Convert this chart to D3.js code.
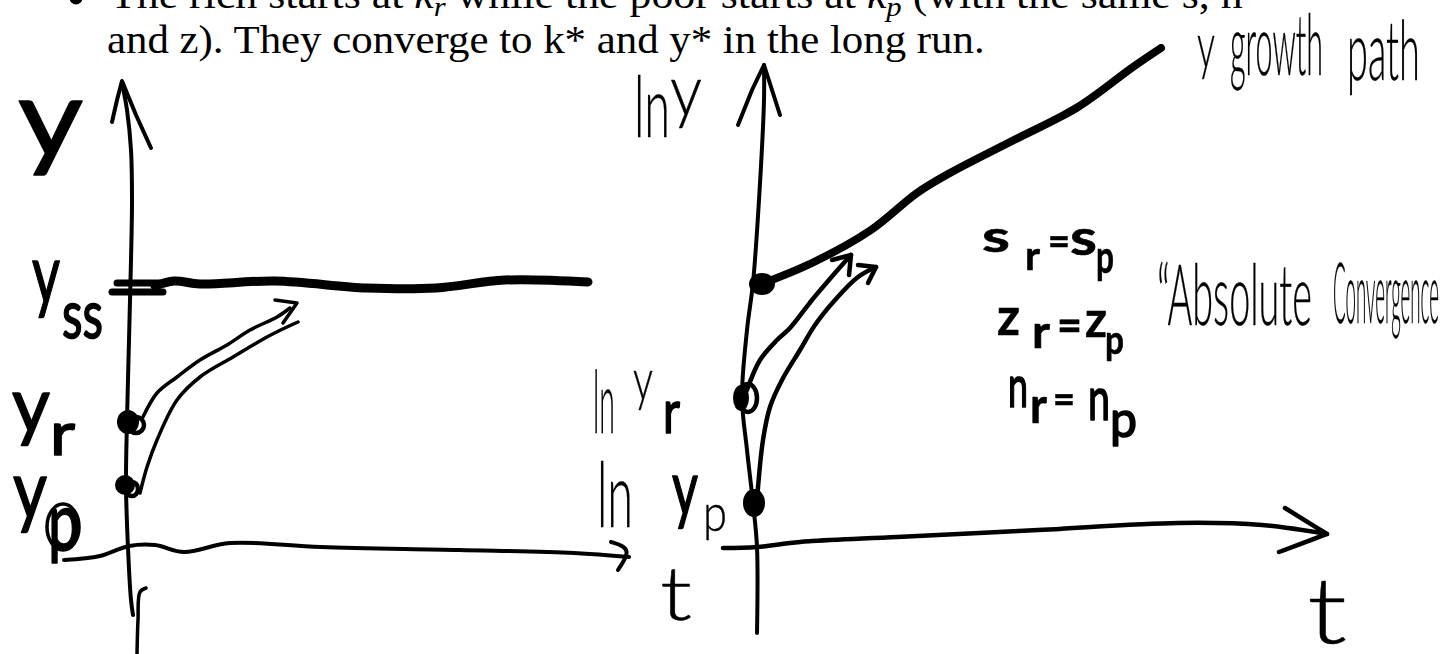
<!DOCTYPE html>
<html>
<head>
<meta charset="utf-8">
<script src="https://cdn.jsdelivr.net/npm/d3@7"></script>
<style>
  html, body { margin: 0; padding: 0; background: #fff; overflow: hidden; }
  svg { display: block; }
</style>
</head>
<body>
<svg id="chart" width="1440" height="654"></svg>
<script>
// ---------- Left panel: y against t (levels) ----------
// points are [t, y] in panel units
const leftAxisY     = [[-0.6,46.9],[-0.1,44.2],[0.3,40.2],[0.4,35.2],[0.3,29.2],[0.1,21.2],[-0.1,13.2],[-0.2,6.7],[0,0.4],[0.3,-4.8],[0.5,-6.3]];
const leftAxisYHead = [[-1.6,43.0],[-1.1,45.2],[-0.6,47.1],[0.8,43.7],[2.3,40.4]];
const leftAxisYTail = [[1.8,-3.6],[1.2,-4.0],[1.0,-6.8],[0.9,-10.2]];
const leftAxisT     = [[-6.4,-0.8],[-2.8,-0.4],[0.1,0.6],[2.7,0.7],[5.6,0],[10.2,0.9],[19.3,0.5],[33.1,0.2],[44.6,-0.1],[50.1,-0.5]];
const leftAxisTHead = [[48.3,1.0],[49.6,0.6],[50.1,-0.1],[49.0,-1.8]];
const steadyTicks   = [[[-1.1,26.9],[3.2,26.9]], [[-1.6,26.0],[3.5,26.0]]];
const steadyState   = [[2.7,26.6],[4.6,27.1],[7.2,26.8],[14.7,27.1],[23.9,26.4],[30.8,26.4],[37.7,27.2],[46.0,27.0]];
const convUpper     = [[1.5,13.5],[2.9,15.9],[4.9,17.5],[7.2,19.2],[9.9,20.7],[12.2,22.2],[14.9,23.5],[16.2,24.4]];
const convLower     = [[1.2,5.9],[1.9,8.5],[2.9,11.2],[4.9,15.2],[7.2,17.5],[10.5,19.5],[13.9,21.5],[15.9,22.5],[17.0,23.0]];
const convHead      = [[14.7,25.2],[16.9,24.9],[15.5,22.9]];
const leftDots      = [{t:0, y:13.0, rx:11, ry:12}, {t:-0.3, y:6.7, rx:10, ry:10}];   // y_r, y_p
const leftRings     = [{t:0.8, y:12.7, rx:8, ry:8}, {t:0.4, y:6.3, rx:6, ry:7}];

// ---------- Right panel: ln y against t (growth) ----------
const rightAxisY     = [[1.2,48.1],[1.2,44.6],[0.7,34.6],[0.1,26.3],[-0.5,21.6],[-1.0,14.8],[-0.5,9.6],[0.1,4.3],[0.5,-0.1],[0.5,-8.7]];
const rightAxisYHead = [[-1.4,42.1],[0,45.6],[1.2,48.1],[2.0,45.6],[2.8,43.1]];
const rightAxisT     = [[-2.9,-0.2],[0.5,-0.1],[4.8,0.4],[14.5,0.9],[28.6,1.6],[42.6,2.3],[51.0,2.1],[57.5,1.2]];
const rightAxisTHead = [[53.3,3.8],[57.5,1.2],[52.7,-0.6]];
const growthPath     = [[1.2,26.3],[6.0,28.3],[11.9,31.6],[16.5,35.3],[19.8,37.3],[26.2,40.6],[32.6,43.9],[38.1,47.9],[40.9,49.8]];
const richPath       = [[-0.5,15.6],[0.8,18.6],[2.5,20.6],[3.8,21.8],[6.0,24.6],[8.3,27.3],[9.9,29.1]];
const richHead       = [[8.0,28.6],[9.9,29.1],[9.7,27.1]];
const poorPath       = [[0.5,4.6],[1.1,10.6],[1.8,13.9],[3.0,16.6],[4.8,19.6],[6.3,22.1],[8.3,24.6],[10.6,26.9],[12.4,27.9]];
const poorHead       = [[10.6,28.1],[12.4,27.9],[11.6,26.3]];
const rightDots      = [{t:1.0, y:26.2, rx:13, ry:11}, {t:-1.1, y:14.8, rx:8, ry:13}, {t:0.2, y:4.3, rx:11, ry:14}];
const rightRings     = [{t:-0.4, y:14.8, rx:9, ry:14}];

// ---------- Text ----------
const captionLine1 = [
  {s:"The rich starts at "}, {s:"k", i:true}, {s:"r", i:true, sub:true},
  {s:" while the poor starts at "}, {s:"k", i:true}, {s:"p", i:true, sub:true},
  {s:" (with the same s, n"}
];
const captionLine2 = [{s:"and z). They converge to k* and y* in the long run."}];

const leftLabels = ["y", "y", "ss", "y", "r", "y", "p", "t"];
const rightLabels = ["ln", "y", "ln", "y", "r", "ln", "y", "p",
  "y", "growth", "path",
  "s", "r", "=", "s", "p",
  "z", "r", "=", "z", "p",
  "n", "r", "=", "n", "p",
  "\u201CAbsolute", "Convergence\u201D", "t"];

// label placement: [t, y (baseline), font size, width, pen]
// pen: 0 thin, 1 medium, 2 heavy
const leftLabelLayout = [
  [-11.0,39.6,109,65,1], [-9.6,24.9,83,28,1], [-6.6,21.4,68,41,1],
  [-11.6,12.0,77,38,1], [-7.8,9.7,60,25,1],
  [-11.5,3.4,82,34,1], [-8.0,0.3,80,32,1],
  [53.2,-6.8,75,32,0]
];
const rightLabelLayout = [
  [-11.8,40.9,84,36,0], [-8.2,43.1,70,32,0],
  [-15.9,11.3,87,22,0], [-11.9,14.6,58,20,0], [-8.9,11.3,60,17,1],
  [-15.5,1.9,90,36,0], [-8.0,3.1,78,26,1], [-4.9,1.5,51,24,0],
  [44.5,47.8,64,18,0], [47.8,47.1,85,93,0], [59.5,46.6,83,73,0],
  [23.0,29.4,44,28,2], [27.3,27.6,40,15,2], [29.6,29.1,40,22,2], [31.8,29.1,50,27,2], [34.4,27.3,46,18,2],
  [24.5,21.1,51,23,2], [28.0,19.8,45,18,2], [30.5,20.5,45,25,2], [33.3,20.9,50,22,2], [35.3,19.2,40,19,2],
  [25.6,13.9,58,20,1], [27.8,12.3,50,17,2], [30.1,13.3,40,22,2], [33.6,12.6,60,22,1], [35.8,10.9,50,27,1],
  [40.5,22.1,85,155,0], [58.1,22.3,84,112,0],
  [55.5,-9.7,92,40,0]
];
const pens = [
  {weight: 300, stroke: 0.4},
  {weight: 400, stroke: 1.6},
  {weight: 700, stroke: 0.6}
];

// ---------- Scales ----------
const xL = d3.scaleLinear().domain([0, 50]).range([128, 628]);
const yL = d3.scaleLinear().domain([0, 50]).range([552, 52]);
const xR = d3.scaleLinear().domain([0, 50]).range([752, 1252]);
const yR = d3.scaleLinear().domain([0, 50]).range([546, 46]);

const svg = d3.select("#chart");

// pass-through filter: labels are rasterised off-screen in plain greyscale
svg.append("defs").append("filter").attr("id", "flat")
  .attr("x", "-5%").attr("y", "-5%").attr("width", "110%").attr("height", "110%")
  .append("feOffset").attr("dx", 0).attr("dy", 0);

function stroke(g, pts, x, y, width, curve) {
  const line = d3.line().x(d => x(d[0])).y(d => y(d[1]))
    .curve(curve || d3.curveCatmullRom.alpha(0.5));
  g.append("path").attr("d", line(pts))
    .attr("fill", "none").attr("stroke", "#000")
    .attr("stroke-width", width)
    .attr("stroke-linecap", "round").attr("stroke-linejoin", "round");
}

// handwritten labels: squeeze each word horizontally to its written width
function labels(g, texts, layout, x, y) {
  const ink = g.append("g").attr("class", "ink").attr("filter", "url(#flat)");
  texts.forEach((s, i) => {
    const [t, v, size, w, penIdx] = layout[i];
    const pen = pens[penIdx];
    const el = ink.append("text")
      .attr("font-family", "Lato, 'DejaVu Sans', sans-serif")
      .attr("font-weight", pen.weight)
      .attr("font-size", size)
      .attr("fill", "#000")
      .attr("stroke", "#000").attr("stroke-width", pen.stroke).attr("stroke-linejoin", "round")
      .text(s);
    const natural = el.node().getComputedTextLength();
    el.attr("transform", `translate(${x(t)},${y(v)}) scale(${w / natural},1)`);
  });
}

function blobs(g, data, x, y, filled) {
  g.selectAll(null).data(data).join("ellipse")
    .attr("cx", d => x(d.t)).attr("cy", d => y(d.y))
    .attr("rx", d => d.rx).attr("ry", d => d.ry)
    .attr("fill", filled ? "#000" : "none")
    .attr("stroke", filled ? null : "#000")
    .attr("stroke-width", filled ? null : 4.5);
}

// ---------- Caption ----------
const cap = svg.append("g").attr("class", "caption");
cap.append("circle").attr("cx", 76).attr("cy", -2).attr("r", 6.5).attr("fill", "#000");
function captionLine(parts, x0, x1, baseline) {
  const t = cap.append("text")
    .attr("font-family", "'Liberation Serif', 'DejaVu Serif', serif")
    .attr("font-size", 40).attr("fill", "#000");
  let shifted = 0;
  parts.forEach(p => {
    const ts = t.append("tspan").text(p.s);
    if (p.i) ts.attr("font-style", "italic");
    const want = p.sub ? 8 : 0;
    if (want !== shifted) { ts.attr("dy", want - shifted); shifted = want; }
    if (p.sub) ts.attr("font-size", 28);
  });
  const w = t.node().getComputedTextLength();
  t.attr("transform", `translate(${x0},${baseline}) scale(${(x1 - x0) / w},1)`);
}
captionLine(captionLine1, 110, 1243, 8);
captionLine(captionLine2, 107, 985, 53);

// ---------- Left panel ----------
const L = svg.append("g").attr("class", "levels");
stroke(L, leftAxisY, xL, yL, 4);
stroke(L, leftAxisYHead, xL, yL, 4, d3.curveLinear);
stroke(L, leftAxisYTail, xL, yL, 3.5);
stroke(L, leftAxisT, xL, yL, 4);
stroke(L, leftAxisTHead, xL, yL, 4, d3.curveBasis);
steadyTicks.forEach(s => stroke(L, s, xL, yL, 7, d3.curveLinear));
stroke(L, steadyState, xL, yL, 9);
stroke(L, convUpper, xL, yL, 3.5);
stroke(L, convLower, xL, yL, 3.5);
stroke(L, convHead, xL, yL, 3.5, d3.curveLinear);
blobs(L, leftDots, xL, yL, true);
blobs(L, leftRings, xL, yL, false);
labels(L, leftLabels, leftLabelLayout, xL, yL);
// ring around the subscript p of y_p
L.append("ellipse").attr("cx", xL(-6.5)).attr("cy", yL(2.5)).attr("rx", 16).attr("ry", 23)
  .attr("fill", "none").attr("stroke", "#000").attr("stroke-width", 3.5);

// ---------- Right panel ----------
const R = svg.append("g").attr("class", "growth");
stroke(R, rightAxisY, xR, yR, 4);
stroke(R, rightAxisYHead, xR, yR, 4, d3.curveLinear);
stroke(R, rightAxisT, xR, yR, 4.5);
stroke(R, rightAxisTHead, xR, yR, 4.5, d3.curveLinear);
stroke(R, growthPath, xR, yR, 8);
stroke(R, richPath, xR, yR, 4.5);
stroke(R, richHead, xR, yR, 4.5, d3.curveLinear);
stroke(R, poorPath, xR, yR, 4.5);
stroke(R, poorHead, xR, yR, 4.5, d3.curveLinear);
blobs(R, rightDots, xR, yR, true);
blobs(R, rightRings, xR, yR, false);
labels(R, rightLabels, rightLabelLayout, xR, yR);
</script>
</body>
</html>
